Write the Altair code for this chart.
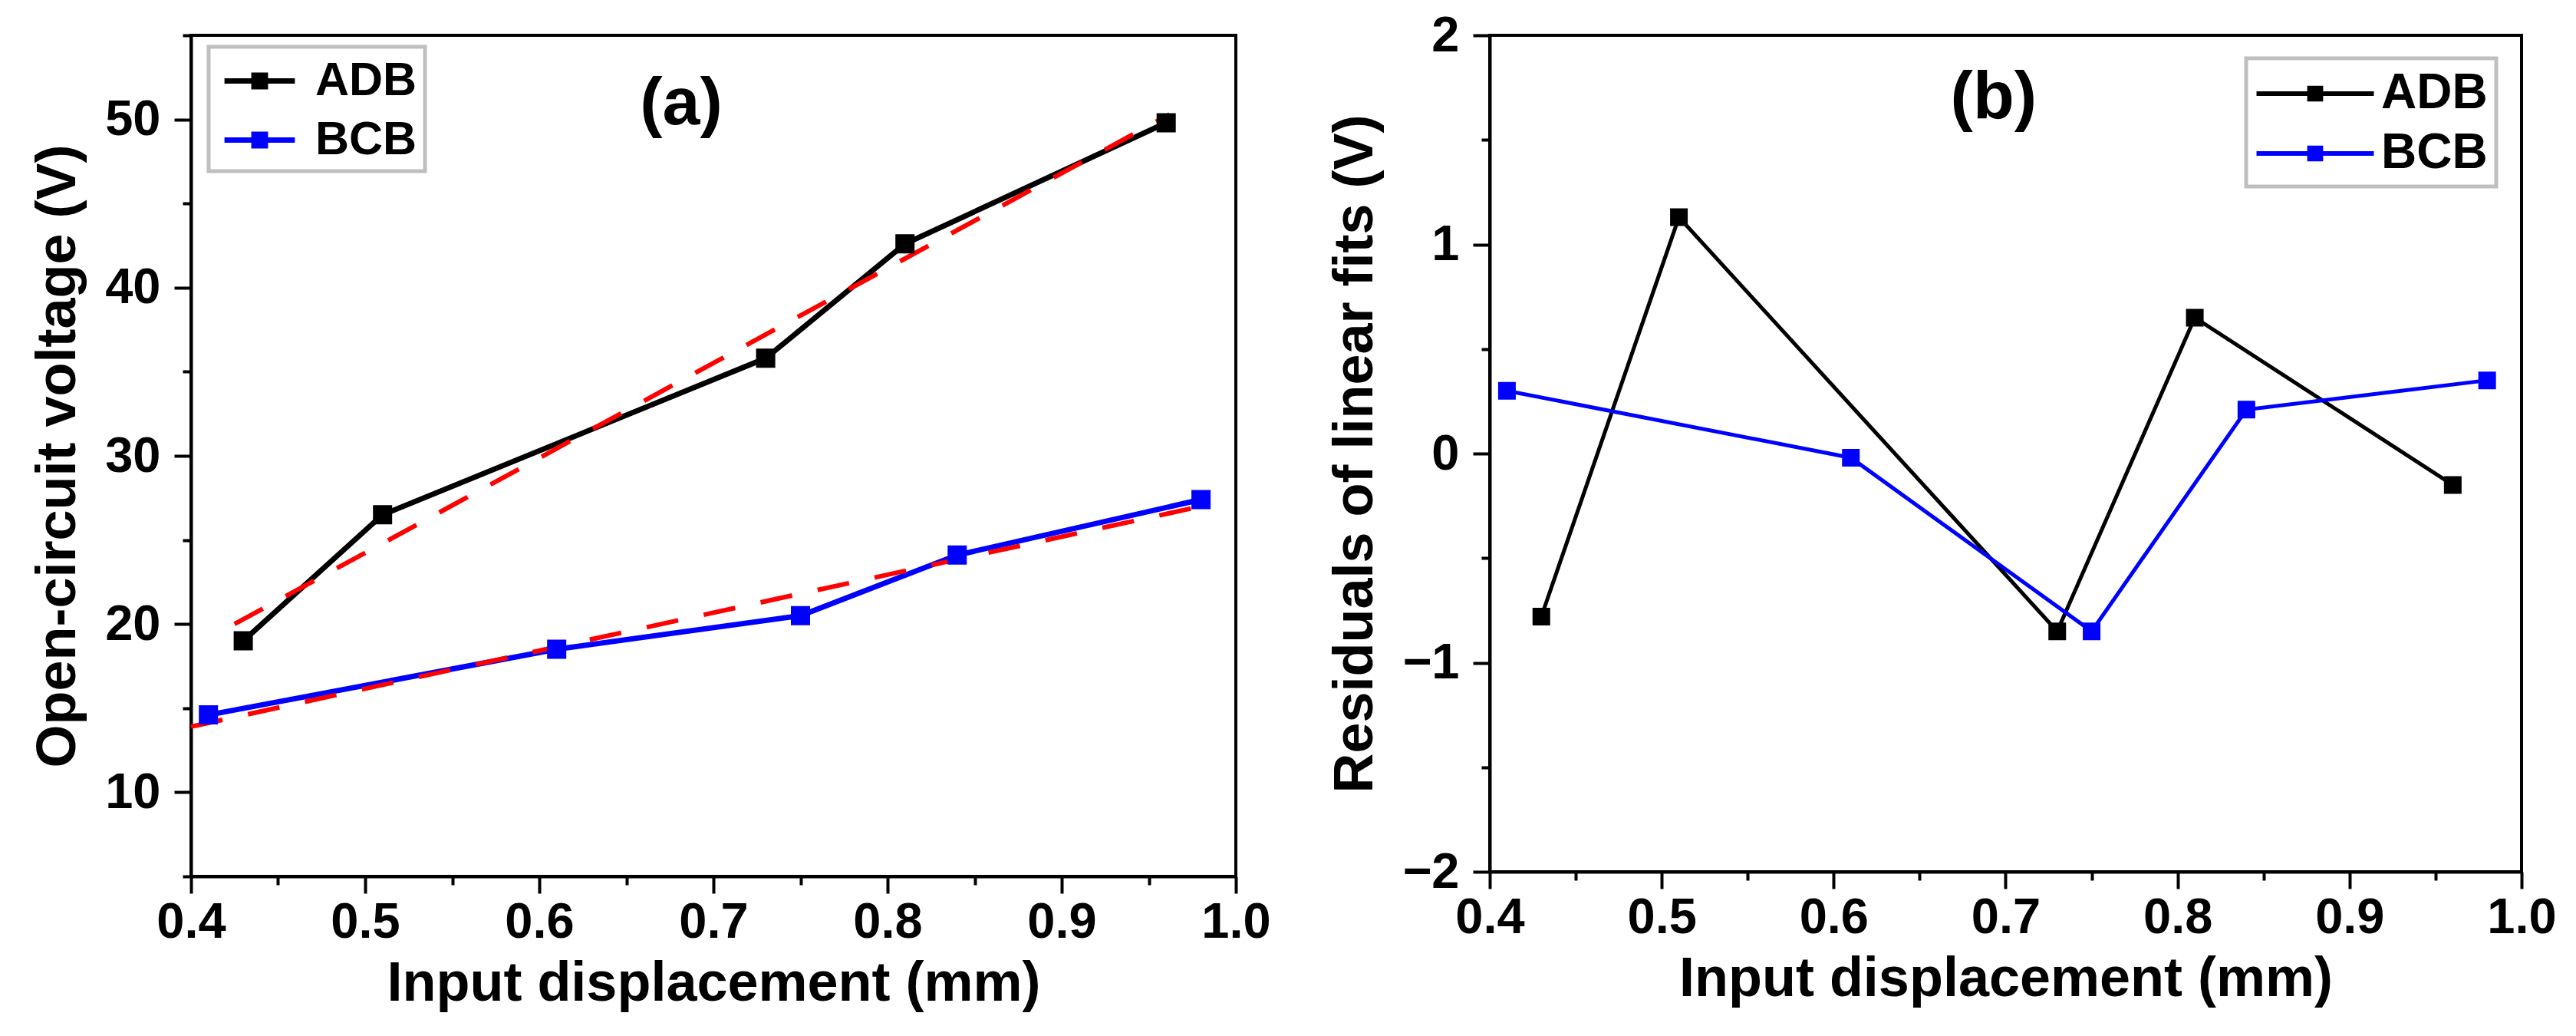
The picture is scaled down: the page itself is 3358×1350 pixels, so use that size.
import altair as alt
import pandas as pd

# panel (a): open-circuit voltage vs input displacement
X_ADB = [0.43, 0.51, 0.73, 0.81, 0.96]
V_ADB = [19.0, 26.5, 35.8, 42.6, 49.8]
X_BCB = [0.41, 0.61, 0.75, 0.84, 0.98]
V_BCB = [14.6, 18.5, 20.5, 24.1, 27.4]

# ends of the red dashed linear fits in (a)
FIT_ADB_X = [0.425, 0.962]
FIT_ADB_V = [20.0, 50.3]
FIT_BCB_X = [0.40, 0.98]
FIT_BCB_V = [13.9, 27.0]

# panel (b): residuals of the linear fits
RES_ADB = [-0.78, 1.13, -0.85, 0.65, -0.15]
RES_BCB = [0.30, -0.02, -0.85, 0.21, 0.35]

SERIES = ["ADB", "BCB"]
COLORS = ["#000000", "#0000ff"]

X_TICKS = [0.4, 0.45, 0.5, 0.55, 0.6, 0.65, 0.7, 0.75, 0.8, 0.85, 0.9, 0.95, 1.0]
Y_TICKS_A = [5, 10, 15, 20, 25, 30, 35, 40, 45, 50, 55]
Y_TICKS_B = [-2, -1.5, -1, -0.5, 0, 0.5, 1, 1.5, 2]

PANEL_LABEL_A = {"x": 0.6815, "y": 50.9, "text": "(a)"}
PANEL_LABEL_B = {"x": 0.693, "y": 1.70, "text": "(b)"}

FONT = "Liberation Sans"
X_TITLE = "Input displacement (mm)"


def long_table(xa, ya, xb, yb, name):
    rows = [{"series": SERIES[0], "x": x, name: y} for x, y in zip(xa, ya)]
    rows += [{"series": SERIES[1], "x": x, name: y} for x, y in zip(xb, yb)]
    return pd.DataFrame(rows)


volt = long_table(X_ADB, V_ADB, X_BCB, V_BCB, "v")
fits = long_table(FIT_ADB_X, FIT_ADB_V, FIT_BCB_X, FIT_BCB_V, "v")
resid = long_table(X_ADB, RES_ADB, X_BCB, RES_BCB, "r")

X_MAJOR = "abs(datum.value * 10 - round(datum.value * 10)) < 0.001"


def x_enc():
    return alt.X(
        "x:Q",
        scale=alt.Scale(domain=[0.4, 1.0], nice=False, zero=False),
        axis=alt.Axis(
            values=X_TICKS,
            title=X_TITLE,
            labelExpr=f"{X_MAJOR} ? format(datum.value, '.1f') : ''",
            tickSize={"condition": {"test": X_MAJOR, "value": 22}, "value": 11},
            labelPadding=6,
            titlePadding=12,
        ),
    )


def color_scale():
    return alt.Scale(domain=SERIES, range=COLORS)


def panel(df, field, y_dom, y_ticks, y_major, y_fmt, y_title, label,
          fit_df, lw, msize, legend):
    y = alt.Y(
        f"{field}:Q",
        scale=alt.Scale(domain=y_dom, nice=False, zero=False),
        axis=alt.Axis(
            values=y_ticks,
            title=y_title,
            labelExpr=f"{y_major} ? format(datum.value, '{y_fmt}') : ''",
            tickSize={"condition": {"test": y_major, "value": 22}, "value": 11},
            labelPadding=18,
            titlePadding=24,
        ),
    )
    base = alt.Chart(df)
    layers = []
    for s, c in zip(SERIES, COLORS):
        layers.append(
            base.transform_filter(alt.datum.series == s)
            .mark_line(strokeWidth=lw, color=c)
            .encode(x=x_enc(), y=y)
        )
        if fit_df is not None:
            layers.append(
                alt.Chart(fit_df).transform_filter(alt.datum.series == s)
                .mark_line(color="#ff0000", strokeWidth=6, strokeDash=[42, 34])
                .encode(x=x_enc(), y=y)
            )
    points = base.mark_point(shape="square", filled=True, size=msize, opacity=1).encode(
        x=x_enc(), y=y,
        color=alt.Color("series:N", scale=color_scale(), legend=legend),
        stroke=alt.Stroke("series:N", scale=color_scale(), legend=legend),
    )
    layers.append(points)
    text = alt.Chart(pd.DataFrame([label])).mark_text(
        font=FONT, fontSize=88, fontWeight="bold", color="black"
    ).encode(x="x:Q", y="y:Q", text="text:N")
    layers.append(text)
    return alt.layer(*layers)


legend_a = alt.Legend(
    title=None, orient="none", legendX=23, legendY=15,
    symbolType="M-1.48,0H1.48M-0.24,-0.24H0.24V0.24H-0.24Z",
    symbolSize=3844, symbolStrokeWidth=7, symbolOffset=22,
    labelFont=FONT, labelFontSize=61, labelFontWeight="bold", labelColor="black",
    labelOffset=38, rowPadding=12, padding=10,
    strokeColor="#bfbfbf", fillColor="white", cornerRadius=0,
)
legend_b = alt.Legend(
    title=None, orient="none", legendX=986, legendY=30,
    symbolType="M-2.39,0H2.39M-0.23,-0.23H0.23V0.23H-0.23Z",
    symbolSize=4096, symbolStrokeWidth=6, symbolOffset=44,
    labelFont=FONT, labelFontSize=64, labelFontWeight="bold", labelColor="black",
    labelOffset=51, rowPadding=11, padding=11,
    strokeColor="#bfbfbf", fillColor="white", cornerRadius=0,
)

chart_a = panel(volt, "v", [5, 55], Y_TICKS_A, "datum.value % 10 == 0", "d",
                "Open-circuit voltage (V)", PANEL_LABEL_A, fits, 7, 529, legend_a
                ).properties(width=1362, height=1096)
chart_b = panel(resid, "r", [-2, 2], Y_TICKS_B,
                "abs(datum.value - round(datum.value)) < 0.001", "d",
                "Residuals of linear fits (V)", PANEL_LABEL_B, None, 5, 441, legend_b
                ).properties(width=1345, height=1090)

chart = alt.hconcat(chart_a, chart_b, spacing=331, bounds="flush").resolve_scale(
    color="independent", stroke="independent"
).resolve_legend(color="independent", stroke="independent").properties(
    padding={"left": 29, "top": 4, "right": 10, "bottom": 10}
).configure_view(
    stroke="black", strokeWidth=4
).configure_axis(
    grid=False,
    domainColor="black", domainWidth=4,
    tickColor="black", tickWidth=4,
    labelFont=FONT, labelFontSize=65, labelFontWeight="bold", labelColor="black",
    labelFlush=False, labelOverlap=False,
    titleFont=FONT, titleFontSize=72, titleFontWeight="bold", titleColor="black",
).configure_legend(
    strokeWidth=5
)

chart.save("out.html", embed_options={"renderer": "svg", "actions": False})
